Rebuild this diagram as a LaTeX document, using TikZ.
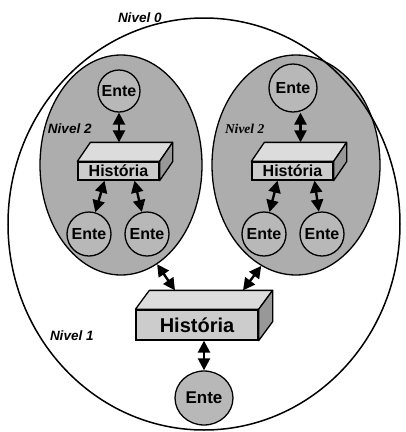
\documentclass[tikz,border=0pt]{standalone}
\usepackage{fontspec}
\setmainfont{Liberation Sans}
\newfontfamily\serifBI{Liberation Serif}
\usetikzlibrary{shapes.geometric,arrows.meta}

\begin{document}
\begin{tikzpicture}[x=1pt,y=-1pt,line cap=round,
	grupo/.style={draw, ellipse, line width=1.3pt, fill=custcol_ad_ad_ad},
	ente/.style={draw, circle, line width=1.3pt, fill=custcol_b8_b8_b8, inner sep=0pt,
		font=\fontsize{16pt}{16pt}\selectfont\bfseries},
	histbox/.style={draw, rectangle, line width=1.3pt, fill=custcol_cc_cc_cc, inner sep=0pt,
		font=\fontsize{16pt}{16pt}\selectfont\bfseries},
	boxtop/.style={draw, line width=1.3pt, line join=round, fill=custcol_dc_dc_dc},
	boxside/.style={draw, line width=1.3pt, line join=round, fill=custcol_98_98_98},
	nivel/.style={inner sep=0, outer sep=0, anchor=base west,
		font=\fontsize{13.5pt}{13.5pt}\selectfont\bfseries\itshape},
	dblarrow/.style={line width=2.4pt, line cap=butt,
		{Triangle[length=12pt,width=12pt]}-{Triangle[length=12pt,width=12pt]}}]
	\definecolor{custcol_ad_ad_ad}{RGB}{173, 173, 173}
	\definecolor{custcol_b8_b8_b8}{RGB}{184, 184, 184}
	\definecolor{custcol_cc_cc_cc}{RGB}{204, 204, 204}
	\definecolor{custcol_dc_dc_dc}{RGB}{220, 220, 220}
	\definecolor{custcol_98_98_98}{RGB}{152, 152, 152}
	\useasboundingbox (0,0) rectangle (406,432);
	% Nivel 2: the two groups
	\node[grupo, minimum width=162, minimum height=220] (grupoA) at (121,165) {};
	\node[grupo, minimum width=168, minimum height=220] (grupoB) at (296,165) {};
	% Nivel 0: outer circle
	\node[draw, ellipse, line width=1.5pt, minimum width=392, minimum height=412] (mundo) at (204,224) {};
	\node[nivel] (nivel0) at (118,22) {Nivel 0};
	\node[nivel] (nivel2A) at (48,133) {Nivel 2};
	\node[nivel, font=\fontsize{13.5pt}{13.5pt}\selectfont\serifBI\bfseries\itshape] (nivel2B) at (225,133) {Nivel 2};
	\node[nivel] (nivel1) at (50,340) {Nivel 1};
	% left group
	\node[ente, minimum size=42] (enteA) at (119,91) {Ente};
	\node[histbox, minimum width=81, minimum height=18] (histA) at (118.5,171) {História};
	\filldraw[boxtop] (histA.north west) -- ([shift={(13,-19)}]histA.north west) -- ([shift={(13,-19)}]histA.north east) -- (histA.north east) -- cycle;
	\filldraw[boxside] (histA.north east) -- ([shift={(13,-19)}]histA.north east) -- ([shift={(13,-19)}]histA.south east) -- (histA.south east) -- cycle;
	\node[ente, minimum size=44] (enteA1) at (89,234) {Ente};
	\node[ente, minimum size=44] (enteA2) at (147,234) {Ente};
	\coordinate (histAtop) at ([shift={(0,-19)}]histA.north);
	\draw[dblarrow] (enteA) -- (enteA |- histAtop);
	\draw[dblarrow] ([xshift=-14pt]histA.south) -- (enteA1);
	\draw[dblarrow] ([xshift=16pt]histA.south) -- (enteA2);
	% right group
	\node[ente, minimum size=48] (enteB) at (293,88) {Ente};
	\node[histbox, minimum width=81, minimum height=18] (histB) at (292.5,171) {História};
	\filldraw[boxtop] (histB.north west) -- ([shift={(13,-19)}]histB.north west) -- ([shift={(13,-19)}]histB.north east) -- (histB.north east) -- cycle;
	\filldraw[boxside] (histB.north east) -- ([shift={(13,-19)}]histB.north east) -- ([shift={(13,-19)}]histB.south east) -- (histB.south east) -- cycle;
	\node[ente, minimum size=44] (enteB1) at (264,234) {Ente};
	\node[ente, minimum size=44] (enteB2) at (322,234) {Ente};
	\coordinate (histBtop) at ([shift={(8,-19)}]histB.north);
	\draw[dblarrow] (histBtop |- enteB.south) -- (histBtop);
	\draw[dblarrow] ([xshift=-15pt]histB.south) -- (enteB1);
	\draw[dblarrow] ([xshift=22pt]histB.south) -- (enteB2);
	% Nivel 1
	\node[histbox, minimum width=122, minimum height=30, font=\fontsize{20pt}{20pt}\selectfont\bfseries] (hist) at (197,325) {História};
	\filldraw[boxtop] (hist.north west) -- ([shift={(14,-19)}]hist.north west) -- ([shift={(14,-19)}]hist.north east) -- (hist.north east) -- cycle;
	\filldraw[boxside] (hist.north east) -- ([shift={(14,-19)}]hist.north east) -- ([shift={(14,-19)}]hist.south east) -- (hist.south east) -- cycle;
	\node[ente, ellipse, minimum width=58, minimum height=54, font=\fontsize{17pt}{17pt}\selectfont\bfseries] (ente) at (204,398) {Ente};
	\coordinate (histtopA) at ([shift={(-22,-19)}]hist.north);
	\coordinate (histtopB) at ([shift={(46,-19)}]hist.north);
	\draw[dblarrow] (grupoA.-70) -- (histtopA);
	\draw[dblarrow] (grupoB.-109) -- (histtopB);
	\draw[dblarrow] (ente) -- (ente |- hist.south);
\end{tikzpicture}
\end{document}
